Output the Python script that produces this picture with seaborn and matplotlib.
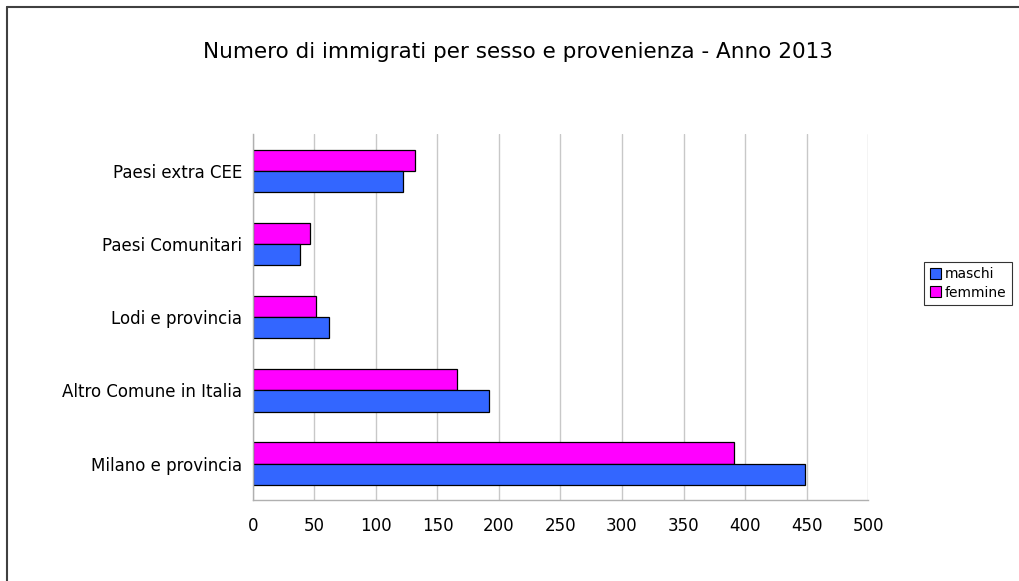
"""
Numero di immigrati per sesso e provenienza - Anno 2013
Horizontal grouped bar chart, saved as out.png.
"""

import pandas as pd
import matplotlib
matplotlib.use('Agg')
import matplotlib.pyplot as plt
from matplotlib.lines import Line2D
from matplotlib.patches import Patch
import seaborn as sns

# Data (top to bottom as drawn)
categories = ['Paesi extra CEE', 'Paesi Comunitari', 'Lodi e provincia',
              'Altro Comune in Italia', 'Milano e provincia']
maschi = [122, 38, 62, 192, 449]
femmine = [132, 46, 51, 166, 391]
series_names = ['maschi', 'femmine']
x_ticks = [0, 50, 100, 150, 200, 250, 300, 350, 400, 450, 500]

COLORS = {'maschi': '#3366ff', 'femmine': '#ff00ff'}

df = pd.DataFrame({
    'provenienza': categories * 2,
    'sesso': ['maschi'] * len(categories) + ['femmine'] * len(categories),
    'valore': maschi + femmine,
})

sns.set_style('white')
plt.rcParams['font.family'] = ['DejaVu Sans']
plt.rcParams['text.color'] = 'black'
plt.rcParams['xtick.color'] = 'black'
plt.rcParams['ytick.color'] = 'black'

fig = plt.figure(figsize=(10.2, 5.81), dpi=100)
ax = fig.add_axes([0.248, 0.139, 0.603, 0.630])

sns.barplot(data=df, x='valore', y='provenienza', hue='sesso',
            order=categories, hue_order=['femmine', 'maschi'],
            palette=COLORS, saturation=1, orient='h', width=0.58, dodge=True,
            edgecolor='black', linewidth=0.9, ax=ax, legend=False)

ax.set_xlim(0, 500)
ax.set_xticks(x_ticks)
ax.set_xticklabels([str(t) for t in x_ticks], fontsize=12)
ax.tick_params(axis='y', labelsize=12, length=0, pad=8)
ax.tick_params(axis='x', length=4, color='#b0b0b0', labelcolor='black', pad=8, direction='out')
ax.set_xlabel('')
ax.set_ylabel('')

ax.grid(axis='x', color='#c8c8c8', linewidth=1)
ax.set_axisbelow(True)
for side in ['top', 'right']:
    ax.spines[side].set_visible(False)
for side in ['left', 'bottom']:
    ax.spines[side].set_color('#b0b0b0')
    ax.spines[side].set_linewidth(1)

fig.text(0.508, 0.91, 'Numero di immigrati per sesso e provenienza - Anno 2013',
         ha='center', va='center', fontsize=15.5, color='black')

handles = [Patch(facecolor=COLORS[s], edgecolor='black', linewidth=0.8) for s in series_names]
leg = fig.legend(handles, series_names, loc='center left', bbox_to_anchor=(0.906, 0.512),
                 fontsize=10, frameon=True, fancybox=False, edgecolor='black',
                 handlelength=0.8, handleheight=0.8, handletextpad=0.3,
                 borderpad=0.4, labelspacing=0.3, borderaxespad=0)
leg.get_frame().set_linewidth(0.8)

# chart border (top and left edges visible in the crop)
fig.add_artist(Line2D([0.0065, 1.0], [0.988, 0.988], transform=fig.transFigure,
                      color='#404040', linewidth=1.5))
fig.add_artist(Line2D([0.0065, 0.0065], [0.0, 0.988], transform=fig.transFigure,
                      color='#404040', linewidth=1.5))

plt.savefig('out.png', dpi=100)
plt.close()
